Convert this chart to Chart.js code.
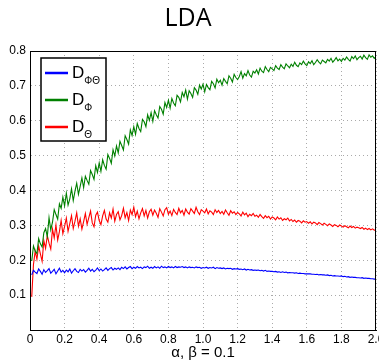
<!DOCTYPE html>
<html>
<head>
<meta charset="utf-8">
<script src="https://cdn.jsdelivr.net/npm/chart.js@4/dist/chart.umd.min.js"></script>
<style>
  html, body { margin: 0; padding: 0; background: #fff; }
  #wrap { width: 379px; height: 360px; }
</style>
</head>
<body>
<div id="wrap"><canvas id="ldaChart"></canvas></div>
<script>
// sample grid: alpha from 0.01 to 2.00
const xStart = 0.01, xStep = 0.01, nPoints = 200;

const dPhiTheta = [
    0.158, 0.171, 0.166, 0.162, 0.175, 0.168, 0.160, 0.173, 0.165, 0.170,
    0.176, 0.163, 0.168, 0.174, 0.161, 0.169, 0.177, 0.166, 0.171, 0.164,
    0.172, 0.167, 0.175, 0.163, 0.170, 0.176, 0.168, 0.165, 0.174, 0.169,
    0.173, 0.166, 0.171, 0.177, 0.169, 0.174, 0.167, 0.172, 0.178, 0.170,
    0.175, 0.169, 0.173, 0.178, 0.171, 0.176, 0.179, 0.172, 0.177, 0.174,
    0.178, 0.173, 0.180, 0.176, 0.181, 0.175, 0.179, 0.182, 0.176, 0.180,
    0.177, 0.182, 0.178, 0.180, 0.176, 0.181, 0.179, 0.183, 0.177, 0.180,
    0.177, 0.182, 0.178, 0.181, 0.177, 0.183, 0.179, 0.181, 0.178, 0.182,
    0.179, 0.181, 0.178, 0.182, 0.179, 0.181, 0.180, 0.182, 0.179, 0.181,
    0.178, 0.181, 0.179, 0.180, 0.178, 0.181, 0.179, 0.180, 0.177, 0.179,
    0.178, 0.180, 0.177, 0.179, 0.178, 0.180, 0.176, 0.179, 0.177, 0.178,
    0.176, 0.178, 0.175, 0.177, 0.176, 0.177, 0.174, 0.176, 0.175, 0.176,
    0.174, 0.175, 0.173, 0.175, 0.172, 0.174, 0.172, 0.173, 0.171, 0.172,
    0.171, 0.172, 0.170, 0.171, 0.169, 0.171, 0.168, 0.169, 0.168, 0.168,
    0.167, 0.168, 0.166, 0.167, 0.165, 0.167, 0.165, 0.166, 0.164, 0.165,
    0.164, 0.164, 0.163, 0.164, 0.162, 0.163, 0.162, 0.162, 0.161, 0.161,
    0.161, 0.161, 0.160, 0.160, 0.159, 0.160, 0.158, 0.159, 0.158, 0.158,
    0.157, 0.158, 0.156, 0.157, 0.155, 0.156, 0.155, 0.155, 0.154, 0.155,
    0.153, 0.154, 0.152, 0.153, 0.151, 0.152, 0.151, 0.151, 0.150, 0.150,
    0.149, 0.150, 0.148, 0.149, 0.148, 0.148, 0.147, 0.147, 0.146, 0.146
];

const dPhi = [
    0.198, 0.241, 0.226, 0.219, 0.262, 0.247, 0.238, 0.279, 0.291, 0.268,
    0.322, 0.287, 0.309, 0.345, 0.331, 0.318, 0.362, 0.349, 0.381, 0.356,
    0.392, 0.358, 0.376, 0.405, 0.371, 0.398, 0.421, 0.389, 0.412, 0.436,
    0.408, 0.441, 0.429, 0.418, 0.457, 0.446, 0.432, 0.471, 0.452, 0.479,
    0.455, 0.488, 0.472, 0.461, 0.503, 0.492, 0.478, 0.517, 0.499, 0.528,
    0.508, 0.541, 0.529, 0.516, 0.557, 0.546, 0.533, 0.574, 0.558, 0.583,
    0.561, 0.592, 0.578, 0.569, 0.604, 0.597, 0.583, 0.617, 0.601, 0.623,
    0.598, 0.629, 0.617, 0.608, 0.641, 0.633, 0.619, 0.652, 0.638, 0.659,
    0.636, 0.664, 0.651, 0.643, 0.673, 0.667, 0.654, 0.681, 0.669, 0.688,
    0.662, 0.686, 0.678, 0.667, 0.695, 0.688, 0.676, 0.702, 0.691, 0.705,
    0.683, 0.704, 0.695, 0.689, 0.713, 0.706, 0.694, 0.719, 0.709, 0.716,
    0.702, 0.721, 0.713, 0.706, 0.729, 0.722, 0.711, 0.733, 0.724, 0.718,
    0.727, 0.741, 0.722, 0.735, 0.729, 0.744, 0.731, 0.725, 0.742, 0.737,
    0.746, 0.734, 0.751, 0.742, 0.738, 0.755, 0.747, 0.741, 0.753, 0.749,
    0.744, 0.758, 0.751, 0.747, 0.761, 0.754, 0.749, 0.763, 0.757, 0.752,
    0.762, 0.756, 0.768, 0.759, 0.755, 0.766, 0.761, 0.771, 0.763, 0.758,
    0.769, 0.764, 0.772, 0.761, 0.767, 0.775, 0.768, 0.763, 0.774, 0.770,
    0.766, 0.776, 0.771, 0.779, 0.768, 0.774, 0.781, 0.772, 0.777, 0.770,
    0.779, 0.774, 0.783, 0.776, 0.771, 0.784, 0.778, 0.786, 0.775, 0.781,
    0.785, 0.777, 0.788, 0.781, 0.776, 0.789, 0.782, 0.786, 0.779, 0.784
];

const dTheta = [
    0.095, 0.188, 0.226, 0.203, 0.241, 0.218, 0.197, 0.256, 0.234, 0.271,
    0.249, 0.232, 0.289, 0.264, 0.301, 0.258, 0.282, 0.314, 0.276, 0.297,
    0.321, 0.283, 0.305, 0.328, 0.291, 0.312, 0.336, 0.298, 0.319, 0.289,
    0.311, 0.334, 0.303, 0.322, 0.341, 0.307, 0.296, 0.329, 0.338, 0.314,
    0.302, 0.327, 0.343, 0.318, 0.309, 0.336, 0.321, 0.347, 0.312, 0.331,
    0.339, 0.316, 0.328, 0.349, 0.322, 0.337, 0.314, 0.344, 0.331, 0.352,
    0.325, 0.341, 0.319, 0.336, 0.348, 0.327, 0.343, 0.321, 0.339, 0.346,
    0.329, 0.344, 0.335, 0.323, 0.348, 0.338, 0.327, 0.345, 0.351, 0.332,
    0.341, 0.328, 0.346, 0.337, 0.331, 0.349, 0.336, 0.343, 0.329, 0.347,
    0.338, 0.332, 0.348, 0.341, 0.334, 0.352, 0.339, 0.331, 0.345, 0.341,
    0.336, 0.347, 0.333, 0.342, 0.338, 0.331, 0.345, 0.337, 0.343, 0.334,
    0.340, 0.332, 0.344, 0.336, 0.329, 0.342, 0.335, 0.339, 0.331, 0.337,
    0.333, 0.327, 0.338, 0.330, 0.335, 0.325, 0.332, 0.328, 0.334, 0.326,
    0.329, 0.323, 0.331, 0.325, 0.320, 0.328, 0.322, 0.326, 0.318, 0.324,
    0.321, 0.316, 0.324, 0.318, 0.322, 0.314, 0.319, 0.316, 0.321, 0.313,
    0.317, 0.311, 0.315, 0.309, 0.314, 0.312, 0.307, 0.313, 0.309, 0.311,
    0.306, 0.310, 0.304, 0.309, 0.307, 0.302, 0.308, 0.305, 0.301, 0.306,
    0.303, 0.299, 0.304, 0.301, 0.297, 0.302, 0.300, 0.296, 0.301, 0.298,
    0.295, 0.299, 0.296, 0.293, 0.298, 0.294, 0.297, 0.292, 0.295, 0.293,
    0.291, 0.294, 0.289, 0.292, 0.288, 0.291, 0.287, 0.290, 0.286, 0.287
];

const seriesLabels = [['D', 'ΦΘ'], ['D', 'Φ'], ['D', 'Θ']];
const seriesColors = ['#0000ff', '#008000', '#ff0000'];

const alphas = Array.from({ length: nPoints }, (_, i) => +(xStart + i * xStep).toFixed(2));
const toPoints = (vals) => vals.map((v, i) => ({ x: alphas[i], y: v }));

const FONT = "'Liberation Sans', Arial, sans-serif";

// black frame around the plot + legend with subscripts
const frameLegend = {
    id: 'frameLegend',
    afterDatasetsDraw(chart) {
        const { ctx, chartArea: a } = chart;
        ctx.save();
        ctx.strokeStyle = '#000';
        ctx.lineWidth = 1;
        ctx.strokeRect(a.left + 0.5, a.top + 0.5, a.right - a.left - 1, a.bottom - a.top);

        const bx = a.left + 11, by = a.top + 7, bw = 65, bh = 83;
        ctx.fillStyle = '#fff';
        ctx.fillRect(bx, by, bw, bh);
        ctx.lineWidth = 1.5;
        ctx.strokeRect(bx, by, bw, bh);

        chart.data.datasets.forEach((ds, i) => {
            const yy = by + 15 + i * 27;
            ctx.strokeStyle = ds.borderColor;
            ctx.lineWidth = 2.5;
            ctx.beginPath();
            ctx.moveTo(bx + 4, yy);
            ctx.lineTo(bx + 27, yy);
            ctx.stroke();
            ctx.fillStyle = '#000';
            ctx.textBaseline = 'alphabetic';
            ctx.font = '17px ' + FONT;
            ctx.fillText(ds.label[0], bx + 31, yy + 5);
            const w = ctx.measureText(ds.label[0]).width;
            ctx.font = '10px ' + FONT;
            ctx.fillText(ds.label[1], bx + 31 + w, yy + 11);
        });
        ctx.restore();
    }
};

new Chart(document.getElementById('ldaChart'), {
    type: 'line',
    data: {
        datasets: [dPhiTheta, dPhi, dTheta].map((vals, i) => ({
            label: seriesLabels[i],
            data: toPoints(vals),
            borderColor: seriesColors[i],
            backgroundColor: seriesColors[i],
            borderWidth: 1.1,
            pointRadius: 0,
            tension: 0,
            fill: false
        }))
    },
    options: {
        responsive: true,
        maintainAspectRatio: false,
        animation: false,
        layout: { padding: { left: 0, right: 3, top: 0, bottom: 0 } },
        plugins: {
            legend: { display: false },
            tooltip: { enabled: false },
            title: {
                display: true,
                text: 'LDA',
                color: '#000',
                font: { family: "'Open Sans', sans-serif", size: 25, weight: 'normal' },
                padding: { top: 4, bottom: 17 }
            }
        },
        scales: {
            x: {
                type: 'linear',
                min: 0,
                max: 2,
                ticks: {
                    stepSize: 0.2,
                    color: '#000',
                    font: { family: FONT, size: 12 },
                    maxRotation: 0,
                    padding: 2
                },
                grid: {
                    color: '#aaa',
                    tickLength: 0,
                    drawTicks: false
                },
                border: { color: '#000', dash: [1, 3] },
                title: {
                    display: true,
                    text: 'α, β = 0.1',
                    color: '#000',
                    font: { family: FONT, size: 15, lineHeight: 1 },
                    padding: { top: 0, bottom: 0 }
                },
                afterFit(s) { s.paddingRight = 0; s.paddingLeft = 0; s.height = 30; }
            },
            y: {
                min: 0,
                max: 0.8,
                ticks: {
                    stepSize: 0.1,
                    color: '#000',
                    font: { family: FONT, size: 12 },
                    padding: 4,
                    callback: (v) => (v === 0 ? '' : +v.toFixed(1))
                },
                grid: {
                    color: '#aaa',
                    drawTicks: false
                },
                border: { color: '#000', dash: [1, 3] },
                afterFit(s) { s.width = 30; }
            }
        }
    },
    plugins: [frameLegend]
});
</script>
</body>
</html>
